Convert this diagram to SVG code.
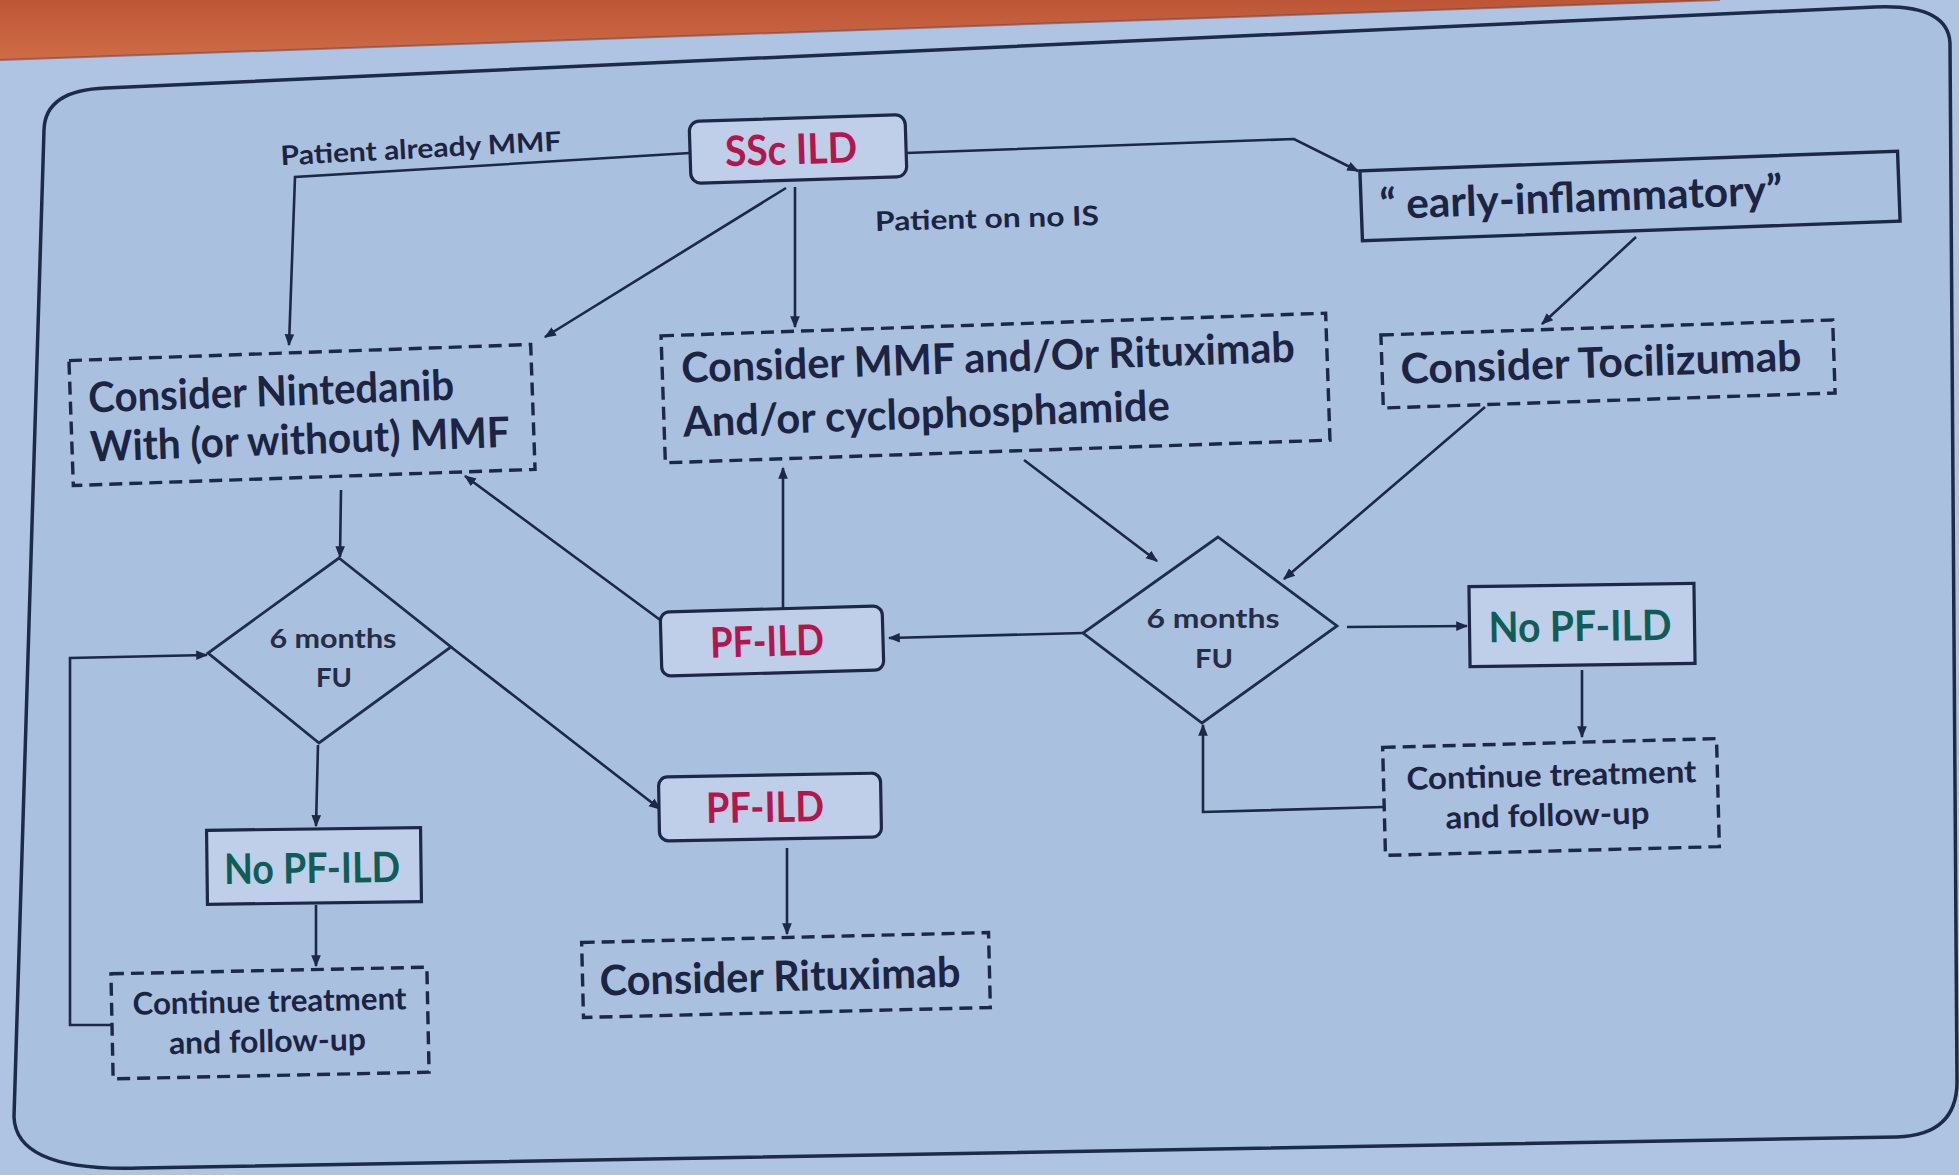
<svg xmlns="http://www.w3.org/2000/svg" width="1959" height="1175" viewBox="0 0 1959 1175">
  <defs>
    <linearGradient id="orange" x1="0" y1="0" x2="0" y2="1">
      <stop offset="0" stop-color="#bd5637"/>
      <stop offset="1" stop-color="#cf6c45"/>
    </linearGradient>
    <marker id="arr" viewBox="0 0 10 10" refX="9" refY="5" markerWidth="12" markerHeight="12" markerUnits="userSpaceOnUse" orient="auto">
      <path d="M0,1 L10,5 L0,9 Z" fill="#1c2846"/>
    </marker>
    <style>
      .ln { stroke:#1c2846; stroke-width:2.6; fill:none; }
      .box { stroke:#1c2846; stroke-width:3.2; fill:#bfcfe9; }
      .boxp { stroke:#1c2846; stroke-width:3.4; fill:none; }
      .dash { stroke:#1c2846; stroke-width:3.4; fill:none; stroke-dasharray:13 7; }
      .dia { stroke:#1f2c4a; stroke-width:2.8; fill:none; }
      .t { font-family:Lato, "Liberation Sans", sans-serif; font-weight:700; fill:#1c2442; }
      .big { font-size:42px; }
      .mid { font-size:31px; }
      .sm { font-size:27px; }
      .dtext { font-family:Lato, "Liberation Sans", sans-serif; font-weight:700; font-size:27px; fill:#262d45; }
      .red { fill:#b3164d; }
      .teal { fill:#0e5e57; }
    </style>
  </defs>

  <!-- slide background -->
  <rect x="0" y="0" width="1959" height="1175" fill="#afc4e2"/>
  <path d="M0,0 L1720,0 L0,60 Z" fill="url(#orange)"/>
  <path d="M0,60 L1720,0" stroke="#8f3b2c" stroke-width="2" fill="none" opacity="0.6"/>
  <path d="M106,88 L1875,7 Q1948,4 1950,43 L1957,1080 Q1958,1135 1897,1137 L140,1168 Q16,1172 14,1117 L44,130 Q45,90 106,88 Z" fill="#a9c0df" stroke="#1d2a48" stroke-width="3.5"/>

  <!-- connectors -->
  <g id="connectors">
    <path class="ln" d="M690,153 L295,177 L289,345" marker-end="url(#arr)"/>
    <path class="ln" d="M795,187 L795,327" marker-end="url(#arr)"/>
    <path class="ln" d="M786,188 L545,337" marker-end="url(#arr)"/>
    <path class="ln" d="M906,153 L1294,139 L1358,171" marker-end="url(#arr)"/>
    <path class="ln" d="M1636,237 L1542,324" marker-end="url(#arr)"/>
    <path class="ln" d="M1485,407 L1284,579" marker-end="url(#arr)"/>
    <path class="ln" d="M1024,460 L1157,561" marker-end="url(#arr)"/>
    <path class="ln" d="M1083,633 L889,638" marker-end="url(#arr)"/>
    <path class="ln" d="M783,608 L783,468" marker-end="url(#arr)"/>
    <path class="ln" d="M663,622 L465,476" marker-end="url(#arr)"/>
    <path class="ln" d="M341,490 L340,557" marker-end="url(#arr)"/>
    <path class="ln" d="M451,647 L660,809" marker-end="url(#arr)"/>
    <path class="ln" d="M318,745 L316,826" marker-end="url(#arr)"/>
    <path class="ln" d="M316,905 L316,966" marker-end="url(#arr)"/>
    <path class="ln" d="M112,1025 L70,1025 L70,658 L207,655" marker-end="url(#arr)"/>
    <path class="ln" d="M787,848 L787,934" marker-end="url(#arr)"/>
    <path class="ln" d="M1347,627 L1467,626" marker-end="url(#arr)"/>
    <path class="ln" d="M1582,670 L1582,737" marker-end="url(#arr)"/>
    <path class="ln" d="M1383,807 L1203,812 L1203,725" marker-end="url(#arr)"/>
  </g>

  <!-- edge labels -->
  <g id="label-already-mmf">
    <text class="t sm" x="421" y="158" text-anchor="middle" textLength="281" lengthAdjust="spacingAndGlyphs" transform="rotate(-3 421 150)">Patient already MMF</text>
  </g>
  <g id="label-no-is">
    <text class="t sm" x="987" y="228" text-anchor="middle" textLength="224" lengthAdjust="spacingAndGlyphs" transform="rotate(-1.5 987 220)">Patient on no IS</text>
  </g>

  <!-- nodes -->
  <g id="ssc-ild" transform="rotate(-1.8 798 149)">
    <rect class="box" x="690" y="118" width="216" height="62" rx="10"/>
    <text class="t big red" x="791" y="164" text-anchor="middle" textLength="132" lengthAdjust="spacingAndGlyphs">SSc ILD</text>
  </g>

  <g id="early-inflammatory" transform="rotate(-2.1 1630 196)">
    <rect class="boxp" x="1361" y="161" width="538" height="70"/>
    <text class="t big" x="1581" y="210" text-anchor="middle" textLength="403" lengthAdjust="spacingAndGlyphs">“ early-inflammatory”</text>
  </g>

  <g id="tocilizumab" transform="rotate(-1.9 1608 364)">
    <rect class="dash" x="1382" y="327.5" width="452" height="73"/>
    <text class="t big" x="1601" y="377" text-anchor="middle" textLength="401" lengthAdjust="spacingAndGlyphs">Consider Tocilizumab</text>
  </g>

  <g id="mmf-rituximab" transform="rotate(-1.95 995 388)">
    <rect class="dash" x="663" y="324.5" width="665" height="127"/>
    <text class="t big" x="682" y="372" textLength="614" lengthAdjust="spacingAndGlyphs">Consider MMF and/Or Rituximab</text>
    <text class="t big" x="682" y="426" textLength="487" lengthAdjust="spacingAndGlyphs">And/or cyclophosphamide</text>
  </g>

  <g id="nintedanib" transform="rotate(-2 302 415)">
    <rect class="dash" x="71" y="352.5" width="462" height="125"/>
    <text class="t big" x="89" y="405" textLength="366" lengthAdjust="spacingAndGlyphs">Consider Nintedanib</text>
    <text class="t big" x="89" y="454" textLength="420" lengthAdjust="spacingAndGlyphs">With (or without) MMF</text>
  </g>

  <g id="pf-ild-mid" transform="rotate(-1.6 772 641)">
    <rect class="box" x="661" y="609" width="222" height="64" rx="9"/>
    <text class="t big red" x="767" y="656" text-anchor="middle" textLength="114" lengthAdjust="spacingAndGlyphs">PF-ILD</text>
  </g>

  <g id="fu-right">
    <polygon class="dia" points="1218,537 1337,626 1202,723 1083,633"/>
    <text class="dtext" x="1213" y="628" text-anchor="middle" textLength="133" lengthAdjust="spacingAndGlyphs">6 months</text>
    <text class="dtext" x="1214" y="668" text-anchor="middle" textLength="38" lengthAdjust="spacingAndGlyphs">FU</text>
  </g>

  <g id="fu-left">
    <polygon class="dia" points="339,558 451,647 319,743 208,653"/>
    <text class="dtext" x="333" y="648" text-anchor="middle" textLength="127" lengthAdjust="spacingAndGlyphs">6 months</text>
    <text class="dtext" x="334" y="687" text-anchor="middle" textLength="36" lengthAdjust="spacingAndGlyphs">FU</text>
  </g>

  <g id="no-pf-ild-right" transform="rotate(-0.8 1582 625)">
    <rect class="box" x="1469.5" y="585" width="225" height="80"/>
    <text class="t big teal" x="1580" y="641" text-anchor="middle" textLength="183" lengthAdjust="spacingAndGlyphs">No PF-ILD</text>
  </g>

  <g id="continue-right" transform="rotate(-1.5 1551 797)">
    <rect class="dash" x="1384" y="743" width="334" height="108"/>
    <text class="t mid" x="1552" y="786" text-anchor="middle" textLength="290" lengthAdjust="spacingAndGlyphs">Continue treatment</text>
    <text class="t mid" x="1547" y="826" text-anchor="middle" textLength="204" lengthAdjust="spacingAndGlyphs">and follow-up</text>
  </g>

  <g id="pf-ild-low" transform="rotate(-1 770 807)">
    <rect class="box" x="659" y="775" width="222" height="64" rx="9"/>
    <text class="t big red" x="765" y="822" text-anchor="middle" textLength="118" lengthAdjust="spacingAndGlyphs">PF-ILD</text>
  </g>

  <g id="rituximab" transform="rotate(-1.4 786 975)">
    <rect class="dash" x="582.5" y="937.5" width="407" height="75"/>
    <text class="t big" x="780" y="991" text-anchor="middle" textLength="361" lengthAdjust="spacingAndGlyphs">Consider Rituximab</text>
  </g>

  <g id="no-pf-ild-left" transform="rotate(-0.7 314 866)">
    <rect class="box" x="207" y="829" width="214" height="74"/>
    <text class="t big teal" x="312" y="883" text-anchor="middle" textLength="176" lengthAdjust="spacingAndGlyphs">No PF-ILD</text>
  </g>

  <g id="continue-left" transform="rotate(-1.2 270 1023)">
    <rect class="dash" x="112" y="970.5" width="316" height="105"/>
    <text class="t mid" x="270" y="1012" text-anchor="middle" textLength="274" lengthAdjust="spacingAndGlyphs">Continue treatment</text>
    <text class="t mid" x="267" y="1052" text-anchor="middle" textLength="197" lengthAdjust="spacingAndGlyphs">and follow-up</text>
  </g>
</svg>
